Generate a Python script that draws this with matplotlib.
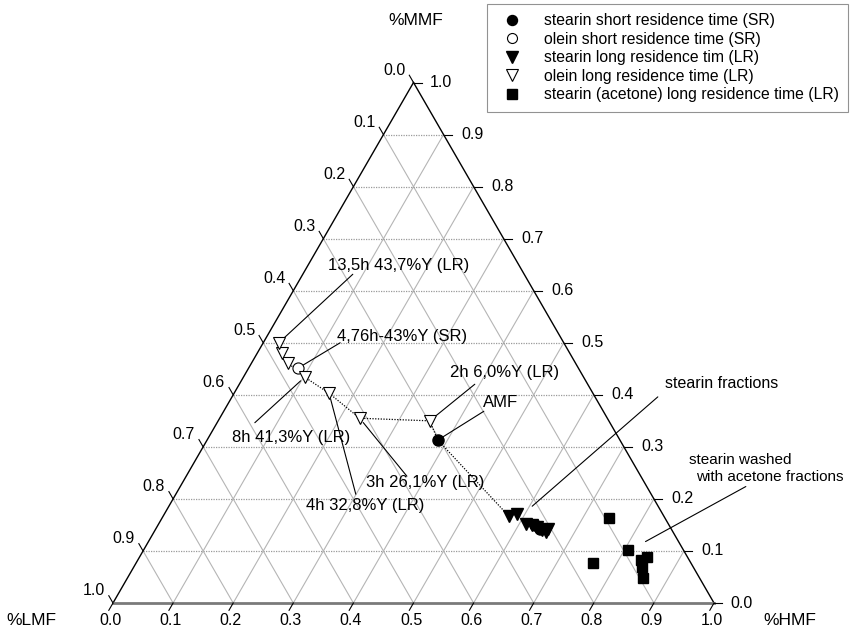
import numpy as np
import matplotlib.pyplot as plt

plt.rcParams['font.family'] = ['Liberation Sans', 'DejaVu Sans']

# ternary data: fraction of HMF and MMF (LMF = 1 - HMF - MMF)
amf_hmf = [0.384]
amf_mmf = [0.313]

olein_sr_hmf = [0.082]
olein_sr_mmf = [0.451]

# olein long residence, ordered 2h -> 13.5h
olein_lr_hmf = [0.352, 0.233, 0.158, 0.102, 0.061, 0.041, 0.026]
olein_lr_mmf = [0.350, 0.355, 0.403, 0.434, 0.461, 0.480, 0.500]

stearin_lr_hmf = [0.575, 0.587, 0.611, 0.622, 0.632, 0.644, 0.652, 0.653]
stearin_lr_mmf = [0.167, 0.171, 0.152, 0.150, 0.146, 0.140, 0.136, 0.142]

stearin_sr_hmf = [0.627, 0.639]
stearin_sr_mmf = [0.150, 0.142]

acetone_hmf = [0.744, 0.806, 0.760, 0.845, 0.837, 0.845, 0.858]
acetone_mmf = [0.163, 0.102, 0.077, 0.088, 0.083, 0.069, 0.048]

ticks = np.round(np.arange(0, 1.01, 0.1), 1)
H = np.sqrt(3) / 2


def tern(hmf, mmf):
    hmf = np.asarray(hmf, dtype=float)
    mmf = np.asarray(mmf, dtype=float)
    return hmf + mmf / 2, mmf * H


fig = plt.figure(figsize=(8.59, 6.34), dpi=100)
ax = fig.add_axes([0, 0, 1, 1])
ax.set_xlim(-113 / 601, 746 / 601)
ax.set_ylim(-31 / 601, 603 / 601)
ax.axis('off')

# grid
for t in ticks[1:-1]:
    # constant MMF (horizontal, dotted)
    x, y = tern([0, 1 - t], [t, t])
    ax.plot(x, y, color='#9a9a9a', lw=0.9, ls=(0, (1, 1)), zorder=1)
    # constant HMF
    x, y = tern([t, t], [0, 1 - t])
    ax.plot(x, y, color='#b5b5b5', lw=0.8, zorder=1)
    # constant LMF
    x, y = tern([1 - t, 0], [0, 1 - t])
    ax.plot(x, y, color='#b5b5b5', lw=0.8, zorder=1)

# frame
x, y = tern([0, 0, 1], [0, 1, 0])
ax.plot(x[:2], y[:2], color='black', lw=1.0, zorder=2)
ax.plot(x[1:], y[1:], color='black', lw=1.0, zorder=2)
ax.plot([x[0], x[2]], [y[0], y[2]], color='#7a7a7a', lw=2.0, zorder=2)

tl = 0.014
fs = 11.5
for t in ticks:
    # right side: MMF
    x, y = tern([1 - t], [t])
    ax.plot([x[0], x[0] + tl], [y[0], y[0]], color='black', lw=0.8)
    off = 0.048 if 0 < t < 1 else 0.045
    ax.text(x[0] + off, y[0], f'{t:.1f}', ha='center', va='center', fontsize=fs)
    # left side: LMF
    x, y = tern([0], [1 - t])
    ax.plot([x[0], x[0] - 0.5 * tl], [y[0], y[0] + H * tl], color='black', lw=0.8)
    ax.text(x[0] - 0.032, y[0] + 0.020, f'{t:.1f}', ha='center', va='center', fontsize=fs)
    # bottom: HMF
    x, y = tern([t], [0])
    ax.plot([x[0], x[0] - 0.5 * tl], [y[0], y[0] - H * tl], color='black', lw=0.8)
    ax.text(x[0] - 0.004, -0.029, f'{t:.1f}', ha='center', va='center', fontsize=fs)

ax.text(0.503, 0.970, '%MMF', ha='center', va='center', fontsize=12.5)
ax.text(-0.135, -0.029, '%LMF', ha='center', va='center', fontsize=12.5)
ax.text(1.126, -0.029, '%HMF', ha='center', va='center', fontsize=12.5)

# dotted paths
px, py = tern(amf_hmf + olein_lr_hmf, amf_mmf + olein_lr_mmf)
ax.plot(px, py, color='black', lw=0.9, ls=(0, (1, 1.2)), zorder=3)
px, py = tern(amf_hmf + stearin_lr_hmf, amf_mmf + stearin_lr_mmf)
ax.plot(px, py, color='black', lw=0.9, ls=(0, (1, 1.2)), zorder=3)

# points
ax.plot(*tern(amf_hmf, amf_mmf), 'o', color='black', ms=8, zorder=5,
        label='stearin short residence time (SR)')
ax.plot(*tern(olein_sr_hmf, olein_sr_mmf), 'o', mfc='white', mec='black', mew=0.8,
        ms=8, zorder=5, label='olein short residence time (SR)')
ax.plot(*tern(stearin_lr_hmf, stearin_lr_mmf), 'v', color='black', ms=9, zorder=5,
        label='stearin long residence tim (LR)')
ax.plot(*tern(olein_lr_hmf, olein_lr_mmf), 'v', mfc='white', mec='black', mew=0.8,
        ms=9, zorder=5, label='olein long residence time (LR)')
ax.plot(*tern(acetone_hmf, acetone_mmf), 's', color='black', ms=7.5, zorder=5,
        label='stearin (acetone) long residence time (LR)')
ax.plot(*tern(stearin_sr_hmf, stearin_sr_mmf), 'o', color='black', ms=8, zorder=5)

# annotations
arrow = dict(arrowstyle='-', color='black', lw=0.8, shrinkA=0, shrinkB=4)
notes = [
    ('13,5h 43,7%Y (LR)', (olein_lr_hmf[6], olein_lr_mmf[6]), (0.476, 0.562), (0.399, 0.547)),
    ('4,76h-43%Y (SR)', (olein_sr_hmf[0], olein_sr_mmf[0]), (0.481, 0.444), (0.378, 0.433)),
    ('2h 6,0%Y (LR)', (olein_lr_hmf[0], olein_lr_mmf[0]), (0.652, 0.383), (0.602, 0.364)),
    ('AMF', (amf_hmf[0], amf_mmf[0]), (0.644, 0.334), (0.617, 0.319)),
    ('8h 41,3%Y (LR)', (olein_lr_hmf[3], olein_lr_mmf[3]), (0.296, 0.276), (0.236, 0.300)),
    ('3h 26,1%Y (LR)', (olein_lr_hmf[1], olein_lr_mmf[1]), (0.519, 0.201), (0.489, 0.211)),
    ('4h 32,8%Y (LR)', (olein_lr_hmf[2], olein_lr_mmf[2]), (0.419, 0.163), (0.404, 0.181)),
]
for txt, pt, tpos, lstart in notes:
    x, y = tern([pt[0]], [pt[1]])
    ax.annotate('', xy=(x[0], y[0]), xytext=lstart, arrowprops=arrow)
    ax.text(tpos[0], tpos[1], txt, ha='center', va='center', fontsize=12)

ax.text(1.013, 0.366, 'stearin fractions', ha='center', va='center', fontsize=11.5)
ax.annotate('', xy=(0.694, 0.158), xytext=(0.910, 0.346),
            arrowprops=dict(arrowstyle='-', color='black', lw=0.8))
ax.text(0.958, 0.238, 'stearin washed', ha='left', va='center', fontsize=11)
ax.text(0.970, 0.209, 'with acetone fractions', ha='left', va='center', fontsize=11)
ax.annotate('', xy=(0.882, 0.100), xytext=(1.057, 0.196),
            arrowprops=dict(arrowstyle='-', color='black', lw=0.8))

leg = ax.legend(loc='upper left', bbox_to_anchor=(487 / 859, 1 - 4 / 634),
                bbox_transform=fig.transFigure, borderaxespad=0,
                fontsize=11.3, frameon=True, fancybox=False, edgecolor='#777777',
                handletextpad=1.0, labelspacing=0.22, borderpad=0.6, markerscale=0.9)
leg.get_frame().set_linewidth(0.8)

fig.savefig('out.png', dpi=100)
